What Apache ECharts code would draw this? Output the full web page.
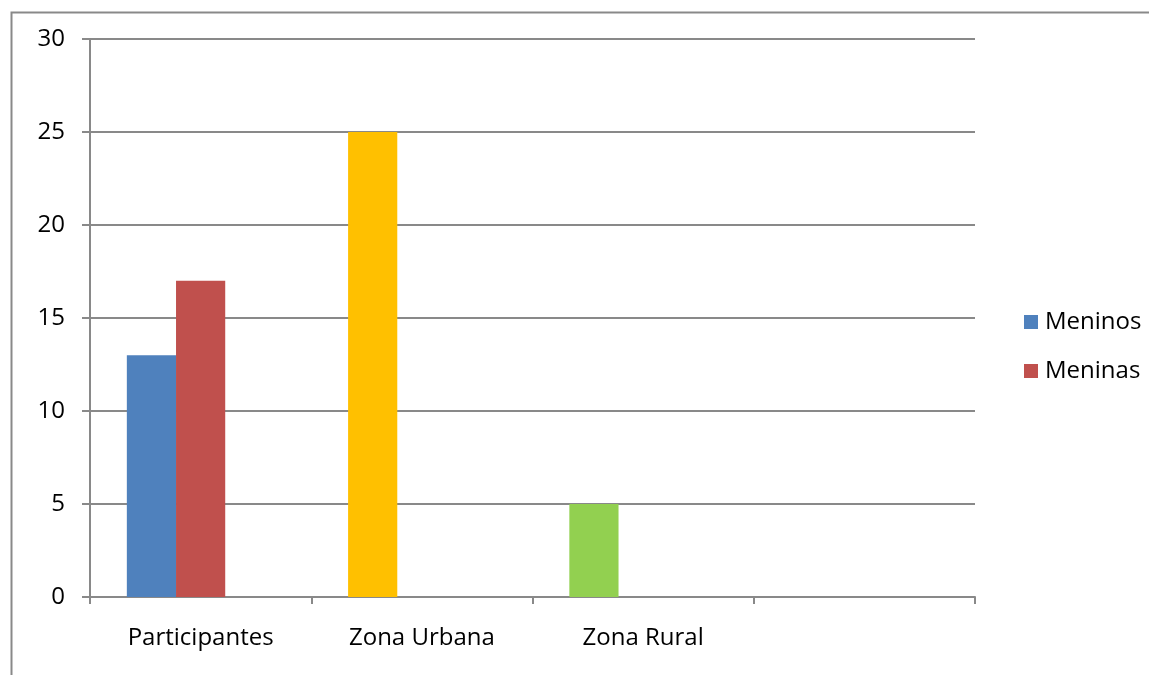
<!DOCTYPE html>
<html>
<head>
<meta charset="utf-8">
<script src="https://cdn.jsdelivr.net/npm/echarts@6/dist/echarts.min.js"></script>
<style>
html,body{margin:0;padding:0;background:#fff;}
#chart{width:1149px;height:675px;}
</style>
</head>
<body>
<div id="chart"></div>
<script>
// ---- data ----
const categories = ['Participantes', 'Zona Urbana', 'Zona Rural', ''];
const meninos = [13, 25, 5, null];
const meninas = [17, null, null, null];
const spare = [null, null, null, null];
const yTicks = { min: 0, max: 30, interval: 5 };
const seriesNames = ['Meninos', 'Meninas'];

// ---- styles ----
const pointColors = ['#4F81BD', '#FFC000', '#92D050', '#4F81BD'];
const FONT = 'Open Sans';
const GRAY = '#898989';

const chart = echarts.init(document.getElementById('chart'), null, { renderer: 'canvas' });
chart.setOption({
  animation: false,
  backgroundColor: '#fff',
  textStyle: { fontFamily: FONT },
  graphic: [{
    type: 'rect', left: 9, top: 10, silent: true,
    shape: { width: 1300, height: 800 },
    style: { fill: 'none', stroke: GRAY, lineWidth: 2 }
  }],
  legend: {
    data: seriesNames,
    orient: 'vertical',
    left: 1019, top: 305,
    icon: 'rect', itemWidth: 14, itemHeight: 14, itemGap: 25,
    textStyle: { fontFamily: FONT, fontSize: 24, color: '#000', padding: [0, 0, 0, 2] }
  },
  grid: { left: 90, right: 174, top: 39, bottom: 78, containLabel: false },
  xAxis: {
    type: 'category', data: categories,
    axisLine: { lineStyle: { color: GRAY, width: 2 } },
    axisTick: { show: true, length: 7, lineStyle: { color: GRAY, width: 2 } },
    axisLabel: { color: '#000', fontFamily: FONT, fontSize: 24, margin: 29, interval: 0 }
  },
  yAxis: {
    type: 'value', min: yTicks.min, max: yTicks.max, interval: yTicks.interval,
    axisLine: { show: true, lineStyle: { color: GRAY, width: 2 } },
    axisTick: { show: true, length: 8, lineStyle: { color: GRAY, width: 2 } },
    axisLabel: { color: '#000', fontFamily: FONT, fontSize: 24, margin: 25 },
    splitLine: { show: true, lineStyle: { color: GRAY, width: 2 } }
  },
  series: [
    {
      name: seriesNames[0], type: 'bar', barGap: 0, barCategoryGap: '33.3%',
      itemStyle: { color: pointColors[0] },
      data: meninos.map((v, i) => ({ value: v, itemStyle: { color: pointColors[i] } }))
    },
    {
      name: seriesNames[1], type: 'bar', barGap: 0, barCategoryGap: '33.3%',
      itemStyle: { color: '#C0504D' },
      data: meninas
    },
    {
      name: 'spare', type: 'bar', barGap: 0, barCategoryGap: '33.3%',
      itemStyle: { color: '#9BBB59' },
      data: spare
    }
  ]
});
</script>
</body>
</html>
